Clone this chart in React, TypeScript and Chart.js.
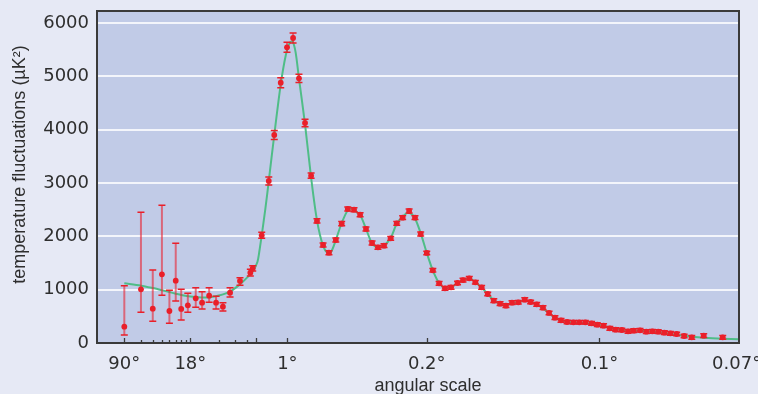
import React, { useEffect, useRef } from 'react';
import { Chart, registerables, LinearScale } from 'chart.js';

Chart.register(...registerables);

// ---------- data ----------
// multipole ell of each measured band
const dataEll = [
  2, 3, 4, 5, 6, 7, 8, 9.4, 11.4, 13.3, 15.8, 18.7, 22.1, 26.3, 33.5, 43.1, 45.7,
  77, 113, 141, 174, 206, 237, 267, 298, 329, 359, 390, 420, 455, 485, 516, 548, 579, 609, 640, 670,
  701, 735, 766, 796, 829, 859, 888, 919, 950, 982, 1012, 1043, 1076, 1104, 1136, 1167, 1199, 1230,
  1261, 1293, 1323, 1354, 1386, 1419, 1449, 1480, 1512, 1543, 1573, 1604, 1635, 1667, 1697, 1728,
  1760, 1789, 1821, 1853, 1883, 1914, 1946, 1975, 2007, 2039, 2070, 2100, 2131, 2162, 2194, 2232,
  2271, 2332, 2429,
];
// temperature fluctuations (µK²)
const dataVal = [
  306, 1006, 644, 1288, 600, 1169, 638, 706, 838, 756, 888, 756, 681, 944, 1163, 1319, 1400,
  2019, 3038, 3900, 4881, 5544, 5719, 4963, 4125, 3138, 2288, 1838, 1694, 1931, 2238, 2513, 2500, 2406, 2138, 1875, 1794,
  1825, 1963, 2244, 2350, 2475, 2350, 2044, 1688, 1363, 1119, 1025, 1044, 1125, 1180, 1213, 1138, 1044, 919,
  794, 738, 700, 756, 763, 813, 769, 725, 663, 563, 475, 425, 394, 388, 388, 388,
  369, 344, 325, 275, 250, 244, 219, 231, 238, 213, 219, 213, 194, 181, 169, 131,
  106, 138, 106,
];
const dataErrUp = [
  769, 1444, 725, 1293, 388, 700, 368, 225, 200, 207, 150, 119, 75, 94, 62, 62, 50,
  56, 75, 84, 94, 94, 94, 78, 69, 50, 40, 38, 38, 38, 38, 38, 38, 38, 38, 38, 36,
  36, 36, 36, 36, 36, 36, 36, 34, 34, 34, 34, 34, 34, 34, 34, 34, 34, 34,
  34, 34, 34, 34, 34, 34, 34, 34, 34, 34, 34, 34, 34, 34, 34, 34,
  34, 34, 34, 34, 34, 34, 34, 34, 34, 34, 34, 34, 34, 34, 34, 34,
  34, 34, 34,
];
const dataErrDown = [
  156, 431, 238, 394, 231, 381, 207, 131, 169, 118, 125, 118, 81, 81, 82, 63, 50,
  56, 75, 84, 94, 94, 94, 78, 69, 50, 40, 38, 38, 38, 38, 38, 38, 38, 38, 38, 36,
  36, 36, 36, 36, 36, 36, 36, 34, 34, 34, 34, 34, 34, 34, 34, 34, 34, 34,
  34, 34, 34, 34, 34, 34, 34, 34, 34, 34, 34, 34, 34, 34, 34, 34,
  34, 34, 34, 34, 34, 34, 34, 34, 34, 34, 34, 34, 34, 34, 34, 34,
  34, 34, 34,
];

// best-fit model curve
const modelEll = [
  2, 3, 4, 5, 6, 7, 8, 10, 13, 16, 20, 26, 33, 40, 46, 55, 65, 77, 95, 113, 141, 174, 200, 220, 235,
  250, 267, 298, 329, 359, 390, 415, 430, 455, 485, 516, 535, 548, 579, 609, 640, 670, 701, 735, 766,
  796, 820, 840, 859, 888, 919, 950, 982, 1012, 1043, 1076, 1104, 1130, 1150, 1167, 1199, 1230, 1261,
  1293, 1323, 1354, 1386, 1419, 1449, 1480, 1512, 1543, 1573, 1604, 1635, 1667, 1697, 1728, 1760, 1789,
  1821, 1853, 1883, 1914, 1946, 1975, 2007, 2039, 2070, 2100, 2131, 2162, 2194, 2232, 2271, 2332, 2429, 2512,
];
const modelVal = [
  1119, 1075, 1030, 990, 955, 925, 900, 870, 855, 860, 890, 960, 1090, 1230, 1350, 1520, 1720, 2020, 2500, 3040, 3900, 4850, 5400, 5630, 5650,
  5450, 4960, 4100, 3100, 2300, 1820, 1680, 1700, 1930, 2250, 2490, 2520, 2490, 2400, 2140, 1870, 1790, 1830, 1970, 2240,
  2370, 2440, 2420, 2340, 2060, 1690, 1360, 1120, 1030, 1050, 1120, 1180, 1205, 1190, 1140, 1040, 920, 800,
  730, 710, 740, 770, 790, 770, 720, 650, 560, 475, 425, 400, 385, 378, 372, 360, 340,
  320, 290, 262, 245, 235, 230, 228, 222, 212, 200, 188, 170, 155, 135, 118, 100, 82, 72,
];

// axis ticks
const yTickValues = [0, 1000, 2000, 3000, 4000, 5000, 6000];
const xTickEll = [2, 10, 208, 919, 1800, 2500];
const xTickLabels = ['90°', '18°', '1°', '0.2°', '0.1°', '0.07°'];
const xMajorMarks = [2, 10, 50, 208, 919, 1800];
const xMinorMarks = [3, 4, 5, 6, 7, 8, 9, 20, 30, 40];

// ---------- hybrid log/linear scale ----------
const BREAK = 50;
const LOG_K = 94.5;
const LIN_S = 0.196;
const warp = (v: number) =>
  v <= BREAK ? LOG_K * Math.log10(v / 2) : LOG_K * Math.log10(BREAK / 2) + LIN_S * (v - BREAK);
const unwarp = (g: number) => {
  const gb = LOG_K * Math.log10(BREAK / 2);
  return g <= gb ? 2 * Math.pow(10, g / LOG_K) : BREAK + (g - gb) / LIN_S;
};

class HybridScale extends LinearScale {
  static id = 'hybrid';
  static defaults = {};
  getPixelForValue(value: number) {
    if (value === null || value === undefined || isNaN(value)) return NaN;
    const g0 = warp(this.min);
    const g1 = warp(this.max);
    return this.getPixelForDecimal((warp(value) - g0) / (g1 - g0));
  }
  getValueForPixel(pixel: number) {
    const g0 = warp(this.min);
    const g1 = warp(this.max);
    return unwarp(g0 + this.getDecimalForPixel(pixel) * (g1 - g0));
  }
}
Chart.register(HybridScale as any);

const OUTER_BG = '#e6e9f5';
const PLOT_BG = '#c1cbe7';
const RED = '#ea1f29';
const GREEN = '#4fbd87';
const TEXT = '#2e2e2e';

const decorPlugin = {
  id: 'decor',
  beforeDraw(chart: any) {
    const { ctx, chartArea } = chart;
    const { left, top, right, bottom } = chartArea;
    ctx.save();
    ctx.fillStyle = PLOT_BG;
    ctx.fillRect(left, top, right - left, bottom - top);
    ctx.restore();
  },
  beforeDatasetDraw(chart: any, args: any) {
    if (args.index !== 0) return;
    const { ctx } = chart;
    const xs = chart.scales.x;
    const ys = chart.scales.y;
    ctx.save();
    for (let i = 0; i < dataEll.length; i++) {
      const x = xs.getPixelForValue(dataEll[i]);
      const yt = ys.getPixelForValue(dataVal[i] + dataErrUp[i]);
      const yb = ys.getPixelForValue(dataVal[i] - dataErrDown[i]);
      ctx.strokeStyle = 'rgba(232,40,55,0.62)';
      ctx.lineWidth = 2;
      ctx.beginPath();
      ctx.moveTo(x, yt);
      ctx.lineTo(x, yb);
      ctx.stroke();
      ctx.strokeStyle = RED;
      ctx.lineWidth = 1.5;
      ctx.beginPath();
      ctx.moveTo(x - 3.5, yt);
      ctx.lineTo(x + 3.5, yt);
      ctx.moveTo(x - 3.5, yb);
      ctx.lineTo(x + 3.5, yb);
      ctx.stroke();
    }
    ctx.restore();
  },
  afterDraw(chart: any) {
    const { ctx, chartArea } = chart;
    const { left, top, right, bottom } = chartArea;
    const xs = chart.scales.x;
    ctx.save();
    ctx.strokeStyle = '#3c3c3c';
    ctx.lineWidth = 1.3;
    ctx.beginPath();
    xMajorMarks.forEach((v) => {
      const x = Math.round(xs.getPixelForValue(v)) + 0.5;
      ctx.moveTo(x, bottom);
      ctx.lineTo(x, bottom - 5);
    });
    xMinorMarks.forEach((v) => {
      const x = Math.round(xs.getPixelForValue(v)) + 0.5;
      ctx.moveTo(x, bottom);
      ctx.lineTo(x, bottom - 3);
    });
    ctx.stroke();
    ctx.lineWidth = 2;
    ctx.strokeStyle = '#3a3a3a';
    ctx.strokeRect(left, top, right - left, bottom - top);
    ctx.restore();
  },
};

export default function App() {
  const ref = useRef<HTMLCanvasElement>(null);
  useEffect(() => {
    const canvas = ref.current;
    if (!canvas) return;
    const chart = new Chart(canvas, {
      type: 'line',
      data: {
        datasets: [
          {
            label: 'measurements',
            data: dataEll.map((x, i) => ({ x, y: dataVal[i] })),
            showLine: false,
            pointRadius: 2.9,
            pointStyle: 'circle',
            pointBackgroundColor: RED,
            pointBorderWidth: 0,
            borderColor: RED,
          },
          {
            label: 'model',
            data: modelEll.map((x, i) => ({ x, y: modelVal[i] })),
            borderColor: GREEN,
            borderWidth: 2,
            pointRadius: 0,
            tension: 0.3,
            fill: false,
          },
        ],
      },
      options: {
        responsive: false,
        animation: false,
        devicePixelRatio: 1,
        events: [],
        layout: { padding: { top: 11, right: 61, left: 0, bottom: 0 } },
        plugins: { legend: { display: false }, tooltip: { enabled: false } },
        scales: {
          x: {
            type: 'hybrid' as any,
            min: 1.028,
            max: 2512,
            grid: { display: false, drawTicks: false },
            border: { display: false },
            afterBuildTicks: (s: any) => {
              s.ticks = xTickEll.map((v) => ({ value: v }));
            },
            afterFit: (s: any) => {
              s.height = 51;
              s.paddingLeft = 0;
              s.paddingRight = 0;
            },
            ticks: {
              autoSkip: false,
              maxRotation: 0,
              padding: 11,
              color: TEXT,
              font: { family: 'DejaVu Sans', size: 18 },
              callback: (_v: any, i: number) => xTickLabels[i],
            },
            title: {
              display: true,
              text: '\u00a0\u00a0\u00a0\u00a0angular scale',
              color: TEXT,
              font: { family: 'Liberation Sans', size: 18 },
              padding: { top: 0, bottom: -3 },
            },
          },
          y: {
            type: 'linear',
            min: 0,
            max: 6225,
            grid: {
              drawTicks: false,
              lineWidth: 2,
              color: (c: any) => (c.tick && c.tick.value === 0 ? 'rgba(0,0,0,0)' : '#f3f5fb'),
            },
            border: { display: false },
            afterBuildTicks: (s: any) => {
              s.ticks = yTickValues.map((v) => ({ value: v }));
            },
            afterFit: (s: any) => {
              s.width = 97;
              s.paddingTop = 0;
              s.paddingBottom = 0;
            },
            ticks: {
              padding: 8,
              color: TEXT,
              font: { family: 'DejaVu Sans', size: 18 },
              callback: (v: any) => String(v),
            },
            title: {
              display: true,
              text: '\u00a0\u00a0\u00a0\u00a0\u00a0temperature fluctuations (\u00b5K\u00b2)',
              color: TEXT,
              font: { family: 'Liberation Sans', size: 18 },
              padding: { top: 9, bottom: 0 },
            },
          },
        },
      },
      plugins: [decorPlugin],
    } as any);
    return () => chart.destroy();
  }, []);
  return (
    <div
      style={{
        position: 'fixed',
        left: 0,
        top: 0,
        width: 758,
        height: 394,
        overflow: 'hidden',
        background: OUTER_BG,
      }}
    >
      <canvas ref={ref} width={800} height={394} style={{ display: 'block', width: 800, height: 394 }} />
    </div>
  );
}
